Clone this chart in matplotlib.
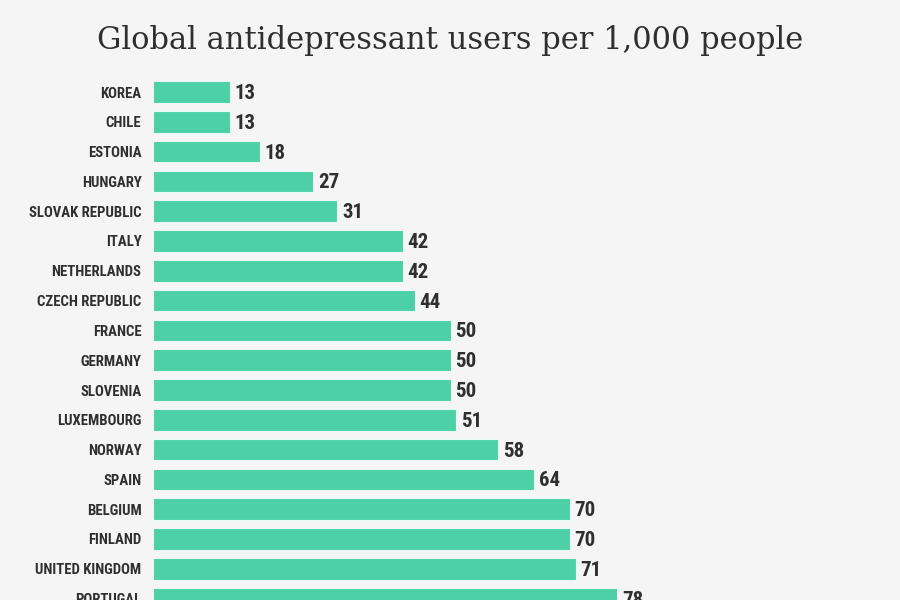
import matplotlib.pyplot as plt
from matplotlib import font_manager

countries = ['KOREA', 'CHILE', 'ESTONIA', 'HUNGARY', 'SLOVAK REPUBLIC', 'ITALY',
             'NETHERLANDS', 'CZECH REPUBLIC', 'FRANCE', 'GERMANY', 'SLOVENIA',
             'LUXEMBOURG', 'NORWAY', 'SPAIN', 'BELGIUM', 'FINLAND',
             'UNITED KINGDOM', 'PORTUGAL']
users = [13, 13, 18, 27, 31, 42, 42, 44, 50, 50, 50, 51, 58, 64, 70, 70, 71, 78]

bg = '#f5f5f5'
bar_color = '#4dd0a6'
text_color = '#2f2f2f'

installed = {f.name for f in font_manager.fontManager.ttflist}
condensed = [f for f in ['Roboto Condensed', 'Liberation Sans Narrow', 'Open Sans Condensed']
             if f in installed]
label_font = condensed + ['Roboto', 'DejaVu Sans']
lab_size = 10.6 if condensed else 9.6
val_size = 15 if condensed else 13.5

W, H = 900, 600
fig = plt.figure(figsize=(9, 6), dpi=100, facecolor=bg)

# pixel geometry of the plot area (rows cut at the bottom like the original)
row = 29.8
top_px = 92 - row / 2
n = len(countries)
bottom_px = top_px + n * row
left_px = 152.5
unit = 5.96
xmax = 120
ax = fig.add_axes([left_px / W, 1 - bottom_px / H, xmax * unit / W, n * row / H])
ax.set_facecolor(bg)

ypos = list(range(n))
ax.barh(ypos, users, height=0.72, color=bar_color, edgecolor='#e6faf3', linewidth=0.8)
for y, v in zip(ypos, users):
    ax.text(v + 0.8, y + 0.05, str(v), va='center', ha='left', fontsize=val_size,
            fontweight='bold', color=text_color, family=label_font)

ax.set_xlim(0, xmax)
ax.set_ylim(n - 0.5, -0.5)
ax.set_yticks(ypos)
ax.set_yticklabels(countries, fontsize=lab_size, fontweight='bold', color=text_color,
                   family=label_font)
ax.tick_params(axis='y', length=0, pad=8)
ax.set_xticks([])
for s in ax.spines.values():
    s.set_visible(False)

fig.text(0.5, 1 - 40 / H, 'Global antidepressant users per 1,000 people',
         ha='center', va='center', fontsize=22, color=text_color,
         family=['DejaVu Serif'])

fig.savefig('out.png', dpi=100, facecolor=bg)
